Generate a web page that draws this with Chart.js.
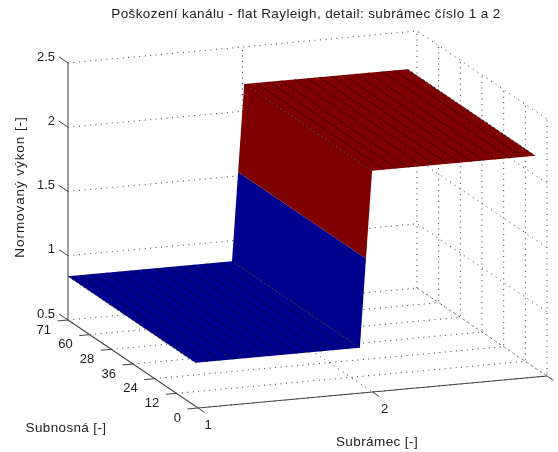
<!DOCTYPE html>
<html>
<head>
<meta charset="utf-8">
<style>
  html, body { margin: 0; background: #fff; }
  canvas { display: block; }
</style>
<script src="https://cdn.jsdelivr.net/npm/chart.js@4"></script>
</head>
<body>
<canvas id="myChart" width="558" height="452"></canvas>
<script>
const TITLE = "Poškození kanálu - flat Rayleigh, detail: subrámec číslo 1 a 2";
const X_LABEL = "Subrámec [-]";
const Y_LABEL = "Subnosná [-]";
const Z_LABEL = "Normovaný výkon [-]";

// axis ticks (subcarrier labels are evenly spaced on the axis, as in the picture)
const subframeTicks = [1, 2, 3];
const subcarrierTicks = [0, 1, 2, 3, 4, 5, 6];
const subcarrierLabels = ["0", "12", "24", "36", "28", "60", "71"];
const powerTicks = [0.5, 1, 1.5, 2, 2.5];

// surface: OFDM symbols of the two subframes and their power
const symbolsLow = [1, 1.07, 1.14, 1.22, 1.29, 1.36, 1.43, 1.5, 1.58, 1.65, 1.72, 1.79, 1.87, 1.94];
const symbolsHigh = [2.01, 2.08, 2.15, 2.22, 2.3, 2.37, 2.44, 2.51, 2.58, 2.65, 2.72, 2.8, 2.87, 2.945];
const powerLow = 0.84;
const powerStep = 1.53;
const powerHigh = 2.21;
const stepSymbol = 1.975;
const subcarrierNear = 0.1;
const subcarrierFar = 6;

// view of the 3D box on the page
const ORIGIN = { x: 198, y: 408 };
const SF_VEC = { x: 174.5, y: -16 };
const SC_VEC = { x: -21.67, y: -14.67 };
const Z_VEC = { x: 0, y: -128.5 };

const BLUE = "#00008f";
const RED = "#800000";
const TITLE_BOX = 23;
const PLOT_LEFT = 54; // title is centred over this area

function project(sf, sc, z) {
  return {
    x: ORIGIN.x + (sf - 1) * SF_VEC.x + sc * SC_VEC.x,
    y: ORIGIN.y + (sf - 1) * SF_VEC.y + sc * SC_VEC.y + (z - 0.5) * Z_VEC.y,
  };
}

const datasets = [];

function addLine(points, color, width, dash) {
  datasets.push({
    data: points.map(p => project(p[0], p[1], p[2])),
    showLine: true,
    borderColor: color,
    borderWidth: width,
    borderDash: dash || [],
    pointRadius: 0,
    fill: false,
  });
}

function addFace(points, color) {
  datasets.push({
    data: points.map(p => project(p[0], p[1], p[2])),
    showLine: true,
    borderWidth: 0,
    backgroundColor: color,
    pointRadius: 0,
    fill: "shape",
  });
}

const GRID = [1, 4.5];
const GRID_COLOR = "#333";

// grid on the walls and the floor
powerTicks.forEach(z => {
  addLine([[1, 6, z], [3, 6, z], [3, 0, z]], GRID_COLOR, 1, GRID);
});
subframeTicks.slice(1).forEach(sf => {
  addLine([[sf, 6, 0.5], [sf, 6, 2.5]], GRID_COLOR, 1, GRID);
  addLine([[sf, 6, 0.5], [sf, 0, 0.5]], GRID_COLOR, 1, GRID);
});
subcarrierTicks.slice(0, 6).forEach(sc => {
  addLine([[1, sc, 0.5], [3, sc, 0.5], [3, sc, 2.5]], GRID_COLOR, 1, GRID);
});

// box axes and tick marks
addLine([[1, 6, 0.5], [1, 6, 2.5]], "#777", 1.4);
addLine([[1, 6, 0.5], [1, 0, 0.5], [3, 0, 0.5]], "#444", 1.2);
powerTicks.forEach(z => addLine([[1, 6, z], [1, 6.42, z]], "#444", 1));
subcarrierTicks.forEach(sc => addLine([[1, sc, 0.5], [0.94, sc, 0.5]], "#444", 1));
subframeTicks.forEach(sf => addLine([[sf, 0, 0.5], [sf, -0.3, 0.5]], "#444", 1));

// surface
const lowEnd = symbolsLow[symbolsLow.length - 1];
const highStart = symbolsHigh[0];
const highEnd = symbolsHigh[symbolsHigh.length - 1];
addFace([[1, subcarrierFar, powerLow], [lowEnd, subcarrierFar, powerLow],
  [lowEnd, subcarrierNear, powerLow], [1, subcarrierNear, powerLow]], BLUE);
addFace([[lowEnd, subcarrierFar, powerLow], [stepSymbol, subcarrierFar, powerStep],
  [stepSymbol, subcarrierNear, powerStep], [lowEnd, subcarrierNear, powerLow]], BLUE);
addFace([[stepSymbol, subcarrierFar, powerStep], [highStart, subcarrierFar, powerHigh],
  [highStart, subcarrierNear, powerHigh], [stepSymbol, subcarrierNear, powerStep]], RED);
addFace([[highStart, subcarrierFar, powerHigh], [highEnd, subcarrierFar, powerHigh],
  [highEnd, subcarrierNear, powerHigh], [highStart, subcarrierNear, powerHigh]], RED);

// mesh lines
const MESH = [3, 1.5];
symbolsLow.forEach(sf => {
  addLine([[sf, subcarrierFar, powerLow], [sf, subcarrierNear, powerLow]], "#000", 0.7, MESH);
});
symbolsHigh.forEach(sf => {
  addLine([[sf, subcarrierFar, powerHigh], [sf, subcarrierNear, powerHigh]], "#000", 0.7, MESH);
});

// chart.js paints low "order" on top, so keep the push order as paint order
datasets.forEach((d, i) => { d.order = datasets.length - i; });

const FONT_FAMILY = '"Liberation Sans", Arial, sans-serif';

const boxText = {
  id: "boxText",
  beforeDraw(chart) {
    chart.ctx.letterSpacing = "0.4px"; // used by the title
  },
  afterDraw(chart) {
    const { ctx } = chart;
    const put = (text, pt, dx, dy, align, size, spacing, angle) => {
      ctx.save();
      ctx.translate(pt.x + dx, pt.y + dy);
      if (angle) ctx.rotate(angle);
      ctx.font = size + "px " + FONT_FAMILY;
      ctx.letterSpacing = spacing + "px";
      ctx.fillStyle = "#222";
      ctx.textAlign = align;
      ctx.textBaseline = "middle";
      ctx.fillText(text, 0, 0);
      ctx.restore();
    };
    powerTicks.forEach(z => put(String(z), project(1, 6, z), -13, -6, "right", 13, 0));
    subcarrierTicks.forEach((sc, i) => put(subcarrierLabels[i], project(1, sc, 0.5), -17, 10, "right", 13, 0));
    subframeTicks.forEach(sf => put(String(sf), project(sf, 0, 0.5), 8 + 2 * sf, 17, "center", 13, 0));
    put(Y_LABEL, { x: 66, y: 428 }, 0, 0, "center", 13.5, 0.35);
    put(X_LABEL, { x: 377, y: 442 }, 0, 0, "center", 13.5, 0.4);
    put(Z_LABEL, { x: 20, y: 187 }, 0, 0, "center", 13.5, 0.92, -Math.PI / 2);
  },
};

new Chart(document.getElementById("myChart"), {
  type: "scatter",
  data: { datasets },
  plugins: [boxText],
  options: {
    responsive: false,
    animation: false,
    layout: { padding: { left: PLOT_LEFT } },
    plugins: {
      legend: { display: false },
      tooltip: { enabled: false },
      title: {
        display: true,
        text: TITLE,
        color: "#222",
        fullSize: false,
        font: { family: FONT_FAMILY, size: 13.5, weight: "normal", lineHeight: "16px" },
        padding: { top: 6, bottom: 1 },
      },
    },
    scales: {
      x: { type: "linear", display: false, min: PLOT_LEFT, max: 558 },
      y: { type: "linear", display: false, min: TITLE_BOX, max: 452, reverse: true },
    },
  },
});
</script>
</body>
</html>
